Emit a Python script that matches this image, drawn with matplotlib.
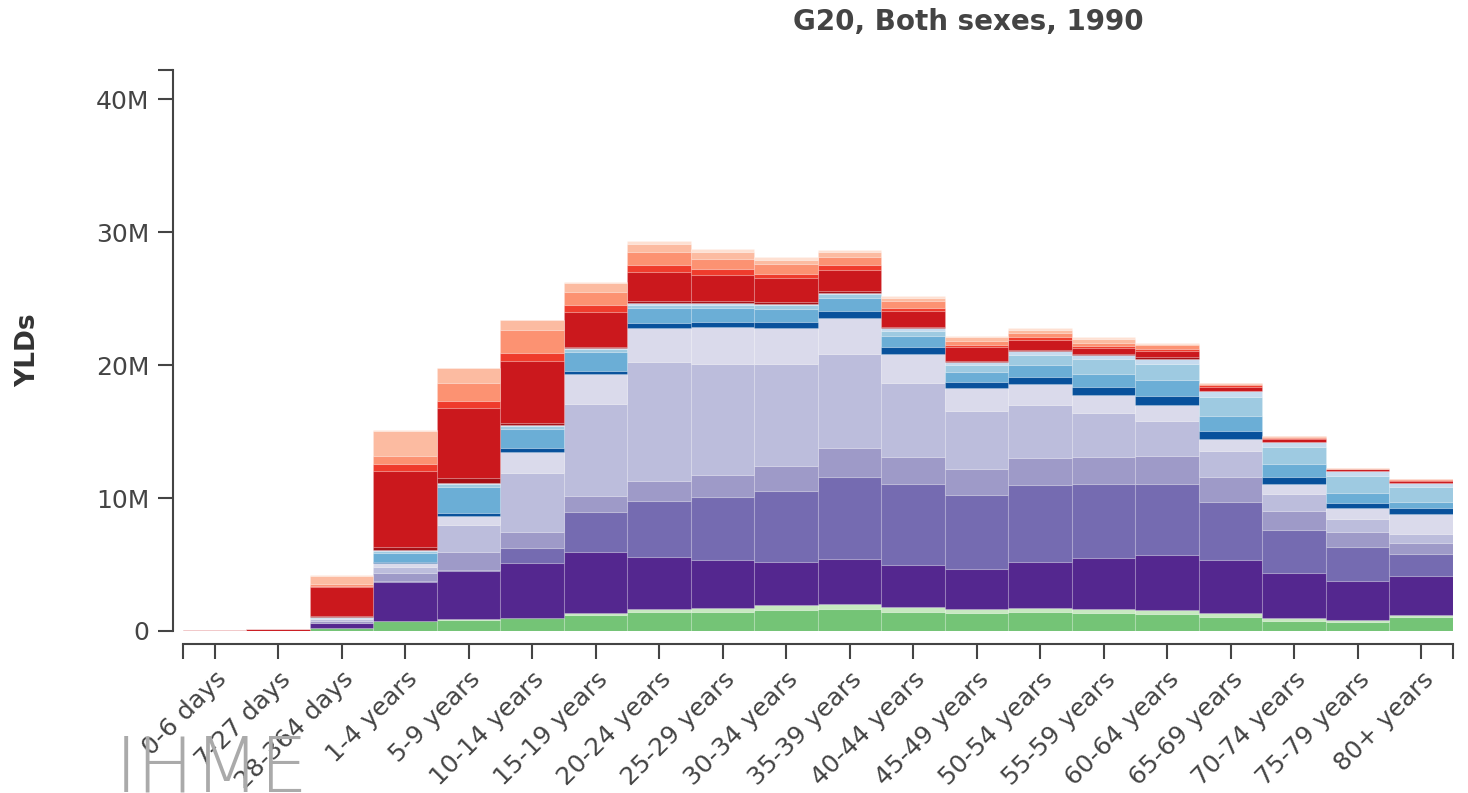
import numpy as np
import matplotlib.pyplot as plt
from matplotlib.ticker import FuncFormatter

age_groups = ["0-6 days", "7-27 days", "28-364 days", "1-4 years", "5-9 years",
              "10-14 years", "15-19 years", "20-24 years", "25-29 years", "30-34 years",
              "35-39 years", "40-44 years", "45-49 years", "50-54 years", "55-59 years",
              "60-64 years", "65-69 years", "70-74 years", "75-79 years", "80+ years"]

# YLDs in millions, stacked bottom -> top
injury_a = [0, 0, 0.23, 0.75, 0.85, 0.95, 1.2, 1.4, 1.45, 1.58, 1.65, 1.45, 1.33, 1.4, 1.33, 1.26, 1.03, 0.77, 0.7, 1.03]
injury_b = [0, 0, 0.02, 0.03, 0.03, 0.05, 0.13, 0.23, 0.3, 0.37, 0.35, 0.38, 0.3, 0.3, 0.3, 0.32, 0.3, 0.18, 0.13, 0.17]
ncd_a = [0, 0, 0.33, 2.9, 3.66, 4.09, 4.63, 3.91, 3.59, 3.26, 3.39, 3.13, 3.01, 3.51, 3.84, 4.13, 4.01, 3.43, 2.95, 2.94]
ncd_b = [0, 0, 0.04, 0.05, 0.05, 1.17, 3.01, 4.23, 4.76, 5.32, 6.21, 6.09, 5.59, 5.77, 5.56, 5.33, 4.38, 3.21, 2.51, 1.65]
ncd_c = [0, 0, 0.15, 0.63, 1.37, 1.21, 1.2, 1.51, 1.63, 1.9, 2.14, 2.01, 1.95, 2.05, 2.08, 2.13, 1.88, 1.43, 1.18, 0.8]
ncd_d = [0, 0, 0.1, 0.43, 2.01, 4.39, 6.88, 8.92, 8.32, 7.62, 7.06, 5.56, 4.38, 3.96, 3.26, 2.64, 1.96, 1.28, 0.93, 0.68]
ncd_e = [0, 0, 0.08, 0.36, 0.70, 1.62, 2.25, 2.56, 2.83, 2.75, 2.71, 2.21, 1.69, 1.56, 1.37, 1.18, 0.88, 0.75, 0.82, 1.53]
ncd_f = [0, 0, 0.01, 0.04, 0.18, 0.26, 0.27, 0.38, 0.38, 0.46, 0.55, 0.5, 0.49, 0.52, 0.58, 0.68, 0.6, 0.55, 0.43, 0.42]
ncd_g = [0, 0, 0.05, 0.67, 1.95, 1.45, 1.38, 1.17, 1.05, 0.95, 0.96, 0.85, 0.76, 0.93, 1.0, 1.2, 1.13, 0.96, 0.75, 0.46]
ncd_h = [0, 0, 0.02, 0.15, 0.27, 0.22, 0.27, 0.25, 0.25, 0.3, 0.34, 0.42, 0.5, 0.75, 1.11, 1.21, 1.45, 1.3, 1.25, 1.17]
ncd_i = [0, 0, 0.01, 0.06, 0.08, 0.08, 0.08, 0.08, 0.08, 0.08, 0.1, 0.16, 0.25, 0.3, 0.3, 0.4, 0.4, 0.35, 0.35, 0.3]
cmnn_a = [0, 0, 0.12, 0.22, 0.33, 0.13, 0.08, 0.17, 0.17, 0.17, 0.1, 0.12, 0.07, 0.08, 0.1, 0.1, 0.05, 0.04, 0.03, 0.02]
cmnn_b = [0.1, 0.14, 2.12, 5.71, 5.26, 4.68, 2.63, 2.21, 1.96, 1.76, 1.63, 1.2, 1.01, 0.75, 0.47, 0.5, 0.3, 0.2, 0.12, 0.15]
cmnn_c = [0.01, 0.02, 0.1, 0.56, 0.58, 0.58, 0.5, 0.5, 0.45, 0.3, 0.33, 0.18, 0.17, 0.2, 0.13, 0.15, 0.1, 0.1, 0.05, 0.05]
cmnn_d = [0, 0, 0.15, 0.62, 1.35, 1.75, 1.0, 1.0, 0.8, 0.75, 0.62, 0.57, 0.33, 0.3, 0.2, 0.25, 0.12, 0.07, 0.02, 0.03]
cmnn_e = [0, 0, 0.6, 1.88, 1.08, 0.75, 0.69, 0.6, 0.5, 0.35, 0.35, 0.25, 0.25, 0.28, 0.3, 0.1, 0.06, 0.03, 0.01, 0]
cmnn_f = [0, 0, 0.08, 0.05, 0.05, 0.05, 0.05, 0.2, 0.2, 0.18, 0.16, 0.11, 0.1, 0.1, 0.15, 0.05, 0.02, 0.01, 0, 0]

layers = [injury_a, injury_b, ncd_a, ncd_b, ncd_c, ncd_d, ncd_e, ncd_f, ncd_g,
          ncd_h, ncd_i, cmnn_a, cmnn_b, cmnn_c, cmnn_d, cmnn_e, cmnn_f]
colors = ['#74c476', '#c7e9c0', '#54278f', '#756bb1', '#9e9ac8', '#bcbddc', '#dadaeb',
          '#08519c', '#6baed6', '#9ecae1', '#c6dbef', '#a50f15', '#cb181d', '#ef3b2c',
          '#fc9272', '#fcbba1', '#fee0d2']

ymax = 42.2e6
axis_color = '#444444'

fig = plt.figure(figsize=(14.68, 7.93), dpi=100)
ax = fig.add_axes([173 / 1468, 162 / 793, 1280 / 1468, 561 / 793])

x = np.arange(len(age_groups))
bottom = np.zeros(len(age_groups))
for values, color in zip(layers, colors):
    vals = np.array(values) * 1e6
    ax.bar(x, vals, width=1.0, bottom=bottom, align='edge', color=color,
           edgecolor=(1, 1, 1, 0.15), linewidth=0.8)
    bottom += vals

ax.set_xlim(-10 / 64, len(age_groups))
ax.set_ylim(0, ymax)

for side in ['top', 'right']:
    ax.spines[side].set_visible(False)
ax.spines['left'].set_color(axis_color)
ax.spines['left'].set_linewidth(1.5)
ax.spines['bottom'].set_color(axis_color)
ax.spines['bottom'].set_linewidth(1.5)
ax.spines['bottom'].set_position(('outward', 9))
ax.spines['bottom'].set_bounds(0, len(age_groups))

ax.set_yticks([0, 10e6, 20e6, 30e6, 40e6])
ax.yaxis.set_major_formatter(FuncFormatter(lambda v, p: '0' if v == 0 else '{:.0f}M'.format(v / 1e6)))
ax.set_yticks([ymax], minor=True)
ax.set_xticks(x + 0.5)
ax.set_xticklabels(age_groups, rotation=45, ha='right', rotation_mode='anchor')
ax.set_xticks([0, len(age_groups)], minor=True)

ax.tick_params(axis='both', which='both', length=11, width=1.5, color=axis_color,
               labelcolor=axis_color, labelsize=18)
ax.tick_params(axis='y', pad=6)
ax.tick_params(axis='x', pad=6)

fig.text(28 / 1468, 1 - 350 / 793, 'YLDs', rotation=90, ha='center', va='center',
         fontsize=19, fontweight='bold', color='#333333')
fig.text(968 / 1468, 1 - 22 / 793, 'G20, Both sexes, 1990', ha='center', va='center',
         fontsize=20, fontweight='bold', color='#444444')
fig.text(115 / 1468, 2 / 793, 'IHME', ha='left', va='baseline', fontsize=55,
         color='#aaaaaa', fontweight='light', zorder=0)

plt.savefig('out.png', dpi=100)
plt.close()
